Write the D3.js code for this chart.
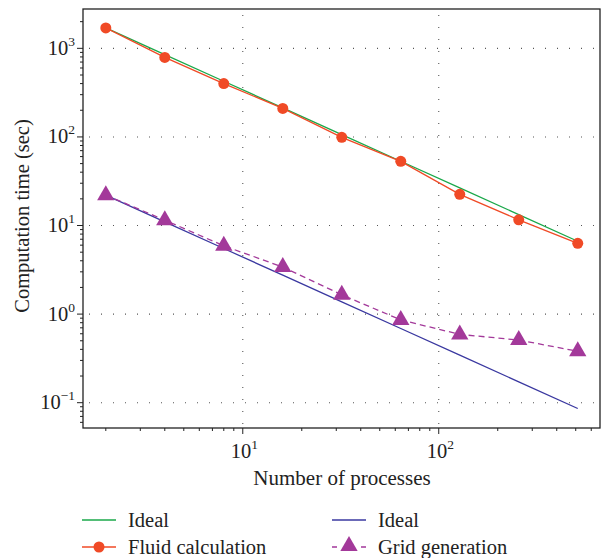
<!DOCTYPE html>
<html>
<head>
<meta charset="utf-8">
<script src="https://cdn.jsdelivr.net/npm/d3@7"></script>
<style>
  body { margin: 0; background: #fff; }
  svg { font-family: "Liberation Serif", "DejaVu Serif", serif; }
</style>
</head>
<body>
<svg id="chart" width="603" height="558"></svg>
<script>
// Processes and timings
const processes = [2, 4, 8, 16, 32, 64, 128, 256, 512];
const fluidTime = [1700, 790, 400, 210, 99, 53, 22.5, 11.6, 6.3];
const gridTime = [22, 11.5, 5.9, 3.4, 1.65, 0.86, 0.59, 0.51, 0.38];
const idealFluid = processes.map(p => fluidTime[0] * processes[0] / p);
const idealGrid = processes.map(p => gridTime[0] * processes[0] / p);
const yTickValues = [0.1, 1, 10, 100, 1000];
const xTickValues = [10, 100];
const legendItems = [
  { label: "Ideal", color: "#1aa84a", marker: null, dash: null },
  { label: "Fluid calculation", color: "#f04a26", marker: "circle", dash: null },
  { label: "Ideal", color: "#3a38a0", marker: null, dash: null },
  { label: "Grid generation", color: "#a3399a", marker: "triangle", dash: "6,4" }
];

const svg = d3.select("#chart");
const m = { left: 83, top: 9, right: 600, bottom: 428 };

const x = d3.scaleLog().domain([1.53, 665]).range([m.left, m.right]);
const y = d3.scaleLog().domain([0.0518, 2780]).range([m.bottom, m.top]);

// dotted grid at decades
const grid = svg.append("g");
grid.selectAll("line.gy").data(yTickValues).enter().append("line")
  .attr("x1", m.left).attr("x2", m.right)
  .attr("y1", d => y(d)).attr("y2", d => y(d))
  .attr("stroke", "#555").attr("stroke-width", 1.1)
  .attr("stroke-dasharray", "1,11").attr("stroke-dashoffset", -6);
grid.selectAll("line.gx").data(xTickValues).enter().append("line")
  .attr("y1", m.top).attr("y2", m.bottom)
  .attr("x1", d => x(d)).attr("x2", d => x(d))
  .attr("stroke", "#555").attr("stroke-width", 1.1)
  .attr("stroke-dasharray", "1,11").attr("stroke-dashoffset", -6);

// frame
svg.append("rect")
  .attr("x", m.left).attr("y", m.top)
  .attr("width", m.right - m.left).attr("height", m.bottom - m.top)
  .attr("fill", "none").attr("stroke", "#222").attr("stroke-width", 1.3);

// ticks
const minorY = [];
for (let e = -2; e <= 3; e++) for (let k = 1; k <= 9; k++) {
  const v = k * Math.pow(10, e);
  if (v >= 0.0518 && v <= 2780) minorY.push(v);
}
const minorX = [];
for (let e = 0; e <= 2; e++) for (let k = 1; k <= 9; k++) {
  const v = k * Math.pow(10, e);
  if (v >= 1.53 && v <= 665) minorX.push(v);
}
svg.append("g").selectAll("line").data(minorY).enter().append("line")
  .attr("x1", m.left).attr("x2", d => m.left - (yTickValues.includes(d) ? 6 : 3))
  .attr("y1", d => y(d)).attr("y2", d => y(d))
  .attr("stroke", "#222").attr("stroke-width", 1);
svg.append("g").selectAll("line").data(minorX).enter().append("line")
  .attr("y1", m.bottom).attr("y2", d => m.bottom + (xTickValues.includes(d) ? 6 : 3))
  .attr("x1", d => x(d)).attr("x2", d => x(d))
  .attr("stroke", "#222").attr("stroke-width", 1);

// tick labels
const pow = v => Math.round(Math.log10(v));
const yl = svg.append("g").selectAll("text").data(yTickValues).enter().append("text")
  .attr("x", m.left - 8).attr("y", d => y(d) + 6.5)
  .attr("text-anchor", "end").attr("font-size", 20.5).attr("fill", "#222");
yl.append("tspan").text("10");
yl.append("tspan").attr("dy", -9).attr("font-size", 13.5).text(d => pow(d) < 0 ? "\u2212" + Math.abs(pow(d)) : pow(d));

const xl = svg.append("g").selectAll("text").data(xTickValues).enter().append("text")
  .attr("x", d => x(d) - 12).attr("y", 458)
  .attr("font-size", 20.5).attr("fill", "#222");
xl.append("tspan").text("10");
xl.append("tspan").attr("dy", -9).attr("font-size", 13.5).text(d => pow(d));

// axis titles
svg.append("text").attr("x", 342).attr("y", 485)
  .attr("text-anchor", "middle").attr("font-size", 21).attr("fill", "#222")
  .text("Number of processes");
svg.append("text")
  .attr("transform", "translate(29,216) rotate(-90)")
  .attr("text-anchor", "middle").attr("font-size", 20.5).attr("fill", "#222")
  .text("Computation time (sec)");

// series
const line = d3.line().x((d, i) => x(processes[i])).y(d => y(d));
const plot = svg.append("g");
plot.append("path").datum(idealFluid).attr("d", line)
  .attr("fill", "none").attr("stroke", legendItems[0].color).attr("stroke-width", 1.3);
plot.append("path").datum(fluidTime).attr("d", line)
  .attr("fill", "none").attr("stroke", legendItems[1].color).attr("stroke-width", 1.3);
plot.append("path").datum(idealGrid).attr("d", line)
  .attr("fill", "none").attr("stroke", legendItems[2].color).attr("stroke-width", 1.3);
plot.append("path").datum(gridTime).attr("d", line)
  .attr("fill", "none").attr("stroke", legendItems[3].color).attr("stroke-width", 1.3)
  .attr("stroke-dasharray", "6,4");

const tri = d3.symbol().type(d3.symbolTriangle).size(130);
plot.selectAll("circle").data(fluidTime).enter().append("circle")
  .attr("cx", (d, i) => x(processes[i])).attr("cy", d => y(d))
  .attr("r", 5.5).attr("fill", legendItems[1].color);
plot.selectAll("path.tri").data(gridTime).enter().append("path")
  .attr("class", "tri").attr("d", tri)
  .attr("transform", (d, i) => `translate(${x(processes[i])},${y(d)})`)
  .attr("fill", legendItems[3].color);

// legend
const legPos = [[82, 520], [82, 547], [332, 520], [332, 547]];
legendItems.forEach((it, i) => {
  const [lx, ly] = legPos[i];
  const g = svg.append("g");
  g.append("line").attr("x1", lx).attr("x2", lx + 34).attr("y1", ly).attr("y2", ly)
    .attr("stroke", it.color).attr("stroke-width", 1.3)
    .attr("stroke-dasharray", it.dash ? "5,8,8,8" : null);
  if (it.marker === "circle") {
    g.append("circle").attr("cx", lx + 17).attr("cy", ly).attr("r", 5.5).attr("fill", it.color);
  } else if (it.marker === "triangle") {
    g.append("path").attr("d", tri).attr("transform", `translate(${lx + 17},${ly - 1})`).attr("fill", it.color);
  }
  g.append("text").attr("x", lx + 46).attr("y", ly + 6.5)
    .attr("font-size", 20.5).attr("fill", "#222").text(it.label);
});
</script>
</body>
</html>
